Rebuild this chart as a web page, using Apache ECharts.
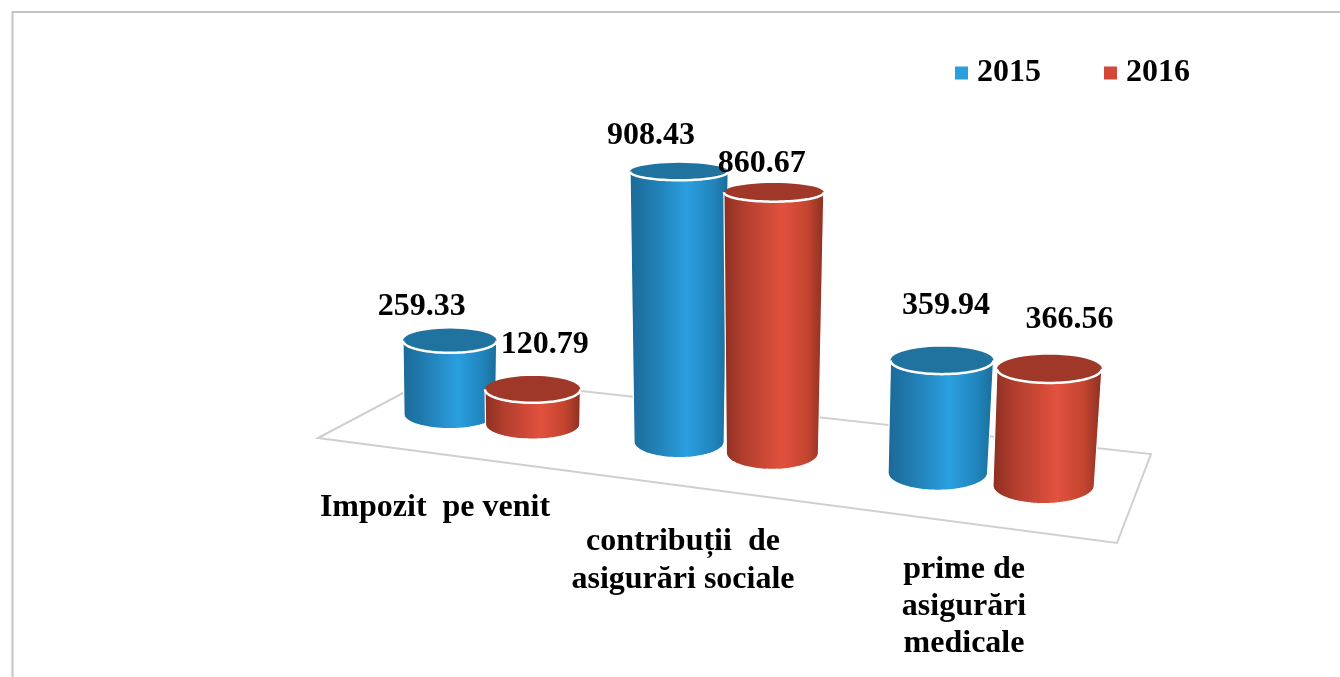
<!DOCTYPE html>
<html>

<head>
    <meta charset="UTF-8">
    <style type="text/css">
        html, body { margin: 0; padding: 0; background: #fff; }
        #chart { width: 1340px; height: 677px; }
    </style>
</head>

<body>
    <div id="chart"></div>
    <script src="https://cdn.jsdelivr.net/npm/echarts@6/dist/echarts.min.js"></script>
    <script type="text/javascript">
        'use strict';
        var categories = ['Impozit  pe venit', 'contribuții  de\nasigurări sociale', 'prime de\nasigurări\nmedicale'];
        var seriesNames = ['2015', '2016'];
        var values2015 = [259.33, 908.43, 359.94];
        var values2016 = [120.79, 860.67, 366.56];

        var FONT = 'bold 32px "Liberation Serif", "Times New Roman", serif';

        // floor quad as seen in the picture: front-left, front-right, back-right, back-left
        var floor = [[318, 438], [1117, 543], [1151, 454], [437, 375]];
        var footDepth = 0.52;

        // unit square -> floor quad, this is what gives the bars their perspective
        var H = (function (q) {
            var dx1 = q[1][0] - q[2][0], dy1 = q[1][1] - q[2][1];
            var dx2 = q[3][0] - q[2][0], dy2 = q[3][1] - q[2][1];
            var sx = q[0][0] - q[1][0] + q[2][0] - q[3][0];
            var sy = q[0][1] - q[1][1] + q[2][1] - q[3][1];
            var den = dx1 * dy2 - dx2 * dy1;
            var g = (sx * dy2 - dx2 * sy) / den;
            var h = (dx1 * sy - sx * dy1) / den;
            return {
                a: q[1][0] - q[0][0] + g * q[1][0], b: q[3][0] - q[0][0] + h * q[3][0], c: q[0][0],
                d: q[1][1] - q[0][1] + g * q[1][1], e: q[3][1] - q[0][1] + h * q[3][1], f: q[0][1],
                g: g, h: h
            };
        })(floor);

        function project(u, v) {
            var w = H.g * u + H.h * v + 1;
            return { x: (H.a * u + H.b * v + H.c) / w, y: (H.d * u + H.e * v + H.f) / w + 3, s: 1 / (1 + 0.75 * H.g * u) };
        }

        function arc(cx, cy, rx, ry, from, to) {
            var pts = [];
            for (var i = 0; i <= 48; i++) {
                var t = from + (to - from) * i / 48;
                pts.push([cx + rx * Math.cos(t), cy + ry * Math.sin(t)]);
            }
            return pts;
        }

        function cylinder(slot, bodyStops, capColor, labelShift) {
            return function (params, api) {
                var i = api.value(0), val = api.value(1);
                var pt = api.coord([i, val]), base = api.coord([i, 0]);
                var band = api.size([1, 0])[0];
                var cs = params.coordSys;
                var u = (pt[0] + slot * band - cs.x) / cs.width;
                var foot = project(u, footDepth);
                var h = (base[1] - pt[1]) * foot.s;
                var rx = 0.154 * band * foot.s;
                var rxBottom = rx * (1 - 0.0003 * h);
                var ryTop = 2 * rx * (0.145 - 0.00024 * h + 0.02 * u);
                var ryBottom = 2 * rx * (0.15 + 0.025 * u);
                // the right hand bars lean out a little at the top
                var tx = foot.x + Math.max(0, 13 * (u - 0.45)), ty = foot.y - h;
                var shift = labelShift[i];
                var body = arc(tx, ty, rx, ryTop, Math.PI, 0).concat(arc(foot.x, foot.y, rxBottom, ryBottom, 0, Math.PI));
                return {
                    type: 'group',
                    children: [{
                        type: 'polygon',
                        shape: { points: body },
                        style: {
                            fill: new echarts.graphic.LinearGradient(0, 0, 1, 0, bodyStops),
                            stroke: '#fff',
                            lineWidth: 1.2
                        }
                    }, {
                        type: 'polygon',
                        shape: { points: arc(tx, ty, rx, ryTop, 0, 2 * Math.PI) },
                        style: { fill: capColor }
                    }, {
                        type: 'polyline',
                        shape: { points: arc(tx, ty, rx, ryTop, 0, Math.PI) },
                        style: { fill: null, stroke: '#fff', lineWidth: 2.5 }
                    }, {
                        type: 'text',
                        x: tx + shift[0],
                        y: ty + shift[1],
                        style: {
                            text: val.toFixed(2),
                            font: FONT,
                            fill: '#000',
                            align: 'center',
                            verticalAlign: 'middle'
                        }
                    }]
                };
            };
        }

        var blueStops = [
            { offset: 0, color: '#1a6a97' }, { offset: 0.2, color: '#2079ad' }, { offset: 0.58, color: '#2a9fdf' },
            { offset: 0.85, color: '#2084bb' }, { offset: 1, color: '#1b6c99' }
        ];
        var redStops = [
            { offset: 0, color: '#8b2f22' }, { offset: 0.2, color: '#b23e2d' }, { offset: 0.58, color: '#e2513e' },
            { offset: 0.83, color: '#c4452f' }, { offset: 1, color: '#8a2f22' }
        ];

        function seriesData(values) {
            return values.map(function (v, i) { return [i, v]; });
        }

        var chart = echarts.init(document.getElementById('chart'));
        chart.setOption({
            backgroundColor: '#fff',
            animation: false,
            legend: {
                data: seriesNames,
                left: 950,
                top: 52,
                icon: 'rect',
                itemWidth: 13,
                itemHeight: 13,
                itemGap: 63,
                selectedMode: false,
                textStyle: { fontFamily: '"Liberation Serif", serif', fontWeight: 'bold', fontSize: 32, color: '#000', padding: [0, 0, 0, 4] }
            },
            // the flat grid only supplies the scales, 1000 units = 280px before perspective
            grid: { left: 100, top: 100, width: 900, height: 280 },
            xAxis: { type: 'category', data: categories, show: false },
            yAxis: { type: 'value', min: 0, max: 1000, show: false },
            graphic: [
                { type: 'polyline', z: -1, shape: { points: [[12.5, 677], [12.5, 12], [1340, 12]] }, style: { fill: null, stroke: '#c4c4c4', lineWidth: 2 } },
                { type: 'polygon', z: -1, shape: { points: floor }, style: { fill: '#fff', stroke: '#cfcfcf', lineWidth: 2 } },
                { type: 'text', z: 5, x: 435, y: 508, style: { text: categories[0], font: FONT, fill: '#000', align: 'center', verticalAlign: 'middle' } },
                { type: 'text', z: 5, x: 683, y: 561, style: { text: categories[1], font: FONT, lineHeight: 38, fill: '#000', align: 'center', verticalAlign: 'middle' } },
                { type: 'text', z: 5, x: 964, y: 607, style: { text: categories[2], font: FONT, lineHeight: 37, fill: '#000', align: 'center', verticalAlign: 'middle' } }
            ],
            series: [{
                name: seriesNames[0],
                type: 'custom',
                z: 2,
                silent: true,
                itemStyle: { color: '#2a9fdf' },
                data: seriesData(values2015),
                encode: { x: 0, y: 1 },
                renderItem: cylinder(-0.1875, blueStops, '#20739f', [[-28, -34], [-28, -36], [4, -55]])
            }, {
                name: seriesNames[1],
                type: 'custom',
                z: 3,
                silent: true,
                itemStyle: { color: '#d2493a' },
                data: seriesData(values2016),
                encode: { x: 0, y: 1 },
                renderItem: cylinder(0.1875, redStops, '#9f3828', [[12, -45], [-12, -29], [20, -49]])
            }]
        });
    </script>
</body>

</html>
